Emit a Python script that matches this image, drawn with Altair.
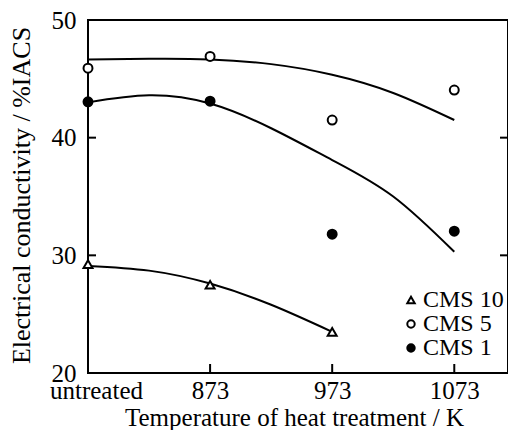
import json
import altair as alt
import pandas as pd

categories = ["untreated", "873", "973", "1073"]
series_names = ["CMS 10", "CMS 5", "CMS 1"]

# measured points (index of category -> value)
cms10 = [29.25, 27.5, 23.5]
cms5 = [45.9, 46.9, 41.5, 44.05]
cms1 = [43.05, 43.1, 31.8, 32.05]

# fitted curves
curve_pos = [0, 0.5, 1, 1.5, 2, 2.5, 3]
curve_cms10 = [29.1, 28.7, 27.6, 25.8, 23.5]
curve_cms5 = [46.65, 46.7, 46.65, 46.25, 45.35, 43.8, 41.5]
curve_cms1 = [43.0, 43.6, 42.9, 40.8, 38.1, 35.0, 30.3]

y_ticks = [20, 30, 40, 50]
inner_y_ticks = [30, 40]
inner_x_ticks = [1, 2, 3]

FONT = "Liberation Serif"
W, H = 420, 353

rows = []
for name, vals in zip(series_names, [cms10, cms5, cms1]):
    for i, v in enumerate(vals):
        rows.append({"series": name, "pos": i, "value": v})
points_df = pd.DataFrame(rows)

crows = []
for name, vals in zip(series_names, [curve_cms10, curve_cms5, curve_cms1]):
    for p, v in zip(curve_pos, vals):
        crows.append({"series": name, "pos": p, "value": v})
curve_df = pd.DataFrame(crows)

xscale = alt.Scale(domain=[0, 3.44], nice=False, zero=False)
yscale = alt.Scale(domain=[20, 50], nice=False, zero=False)

label_expr = json.dumps(categories) + "[datum.value]"

x_axis = alt.Axis(
    values=list(range(len(categories))),
    labelExpr=label_expr,
    title="Temperature of heat treatment / K",
    titleFont=FONT, titleFontSize=25, titleFontWeight="normal", titleColor="black",
    titleX=206, titleY=52, titleBaseline="alphabetic", titleAlign="center",
    labelFont=FONT, labelFontSize=25, labelColor="black", labelPadding=5,
    labelOffset={"condition": {"test": "datum.value == 0", "value": 8}, "value": 0},
    ticks=False, tickSize=0, domain=False, grid=False, labelFlush=False,
)
y_axis = alt.Axis(
    values=y_ticks,
    title="Electrical conductivity / %IACS",
    titleFont=FONT, titleFontSize=26, titleFontWeight="normal", titleColor="black",
    titleX=-59, titleY=175, titleBaseline="alphabetic", titleAlign="center", titleAngle=270,
    labelFont=FONT, labelFontSize=25, labelColor="black", labelPadding=12,
    ticks=False, tickSize=0, domain=False, grid=False, labelFlush=False,
)

legend = alt.Legend(
    title=None, orient="none", legendX=311, legendY=268,
    labelFont=FONT, labelFontSize=24, labelColor="black", labelOffset=0,
    symbolSize=55, symbolStrokeWidth=2,
    rowPadding=-8, padding=0,
)

curves = alt.Chart(curve_df).mark_line(
    color="black", strokeWidth=2, interpolate="natural"
).encode(
    x=alt.X("pos:Q", scale=xscale, axis=x_axis),
    y=alt.Y("value:Q", scale=yscale, axis=y_axis),
    detail="series:N",
)

pts = alt.Chart(points_df).mark_point(
    strokeWidth=2, opacity=1, size=80
).encode(
    x=alt.X("pos:Q", scale=xscale, axis=x_axis),
    y=alt.Y("value:Q", scale=yscale, axis=y_axis),
    shape=alt.Shape("series:N", scale=alt.Scale(domain=series_names, range=["triangle-up", "circle", "circle"]), legend=legend),
    fill=alt.Fill("series:N", scale=alt.Scale(domain=series_names, range=["white", "white", "black"]), legend=legend),
    stroke=alt.Stroke("series:N", scale=alt.Scale(domain=series_names, range=["black", "black", "black"]), legend=legend),
)

ytick_df = pd.DataFrame({"v": inner_y_ticks})
xtick_df = pd.DataFrame({"p": inner_x_ticks})

left_ticks = alt.Chart(ytick_df).mark_rule(color="black", strokeWidth=2).encode(
    y=alt.Y("v:Q", scale=yscale, axis=y_axis), x=alt.value(0), x2=alt.value(8)
)
right_ticks = alt.Chart(ytick_df).mark_rule(color="black", strokeWidth=2).encode(
    y=alt.Y("v:Q", scale=yscale, axis=y_axis), x=alt.value(W - 8), x2=alt.value(W)
)
bottom_ticks = alt.Chart(xtick_df).mark_rule(color="black", strokeWidth=2).encode(
    x=alt.X("p:Q", scale=xscale, axis=x_axis), y=alt.value(H), y2=alt.value(H - 9)
)

chart = alt.layer(curves, left_ticks, right_ticks, bottom_ticks, pts).properties(
    width=W, height=H,
    padding={"left": 80, "top": 12, "right": 0, "bottom": 57},
    autosize=alt.AutoSizeParams(type="none"),
    background="white",
).configure_view(
    stroke="black", strokeWidth=2
).configure_legend(
    labelFont=FONT, labelFontSize=24, labelColor="black"
)

chart.save("out.html", embed_options={"renderer": "svg", "actions": False})
